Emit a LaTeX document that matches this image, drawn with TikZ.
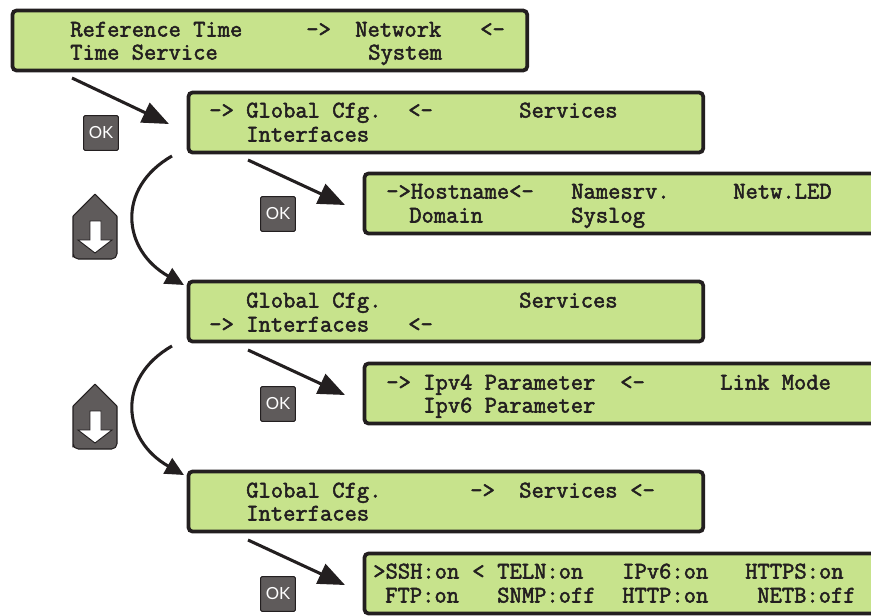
\documentclass[tikz,border=0pt]{standalone}
\usepackage{fontspec}
\newfontfamily\btnfont{Lato}
\newfontfamily\lcdfont[FakeBold=2.2]{Latin Modern Mono}
\usetikzlibrary{arrows.meta,calc}
\definecolor{lcdgreen}{HTML}{C7E38C}
\definecolor{btngray}{HTML}{5F5B5B}
\definecolor{edgeblack}{HTML}{231F20}
\tikzset{
	lcd/.style={draw=edgeblack,fill=lcdgreen,line width=2.8pt,rounded corners=3pt,anchor=north west,inner sep=0pt,outer sep=0pt,minimum height=45pt},
	lcdtxt/.style={anchor=base west,inner sep=0pt,text=edgeblack,font=\fontsize{17.9}{20}\selectfont\lcdfont},
	okbtn/.style={draw=edgeblack,fill=btngray,line width=0.8pt,rounded corners=1pt,minimum size=26pt,inner sep=0pt,text=white,font=\btnfont\fontsize{12.5}{14}\selectfont},
	menuarrow/.style={draw=edgeblack,line width=2.3pt,-{Triangle[length=20pt,width=16pt]}},
	updownarrow/.style={draw=edgeblack,line width=2.3pt,-{Triangle[length=14pt,width=13pt]}}
}
\begin{document}
\begin{tikzpicture}[x=0.75pt,y=-0.75pt]
	\useasboundingbox (0,0) rectangle (871,615);
	\clip (0,0) rectangle (871,615);
	% display panels
	\node[lcd,minimum width=386pt] (main) at (12.5,10.5) {};
	\node[lcd,minimum width=386pt] (global) at (188.5,92.5) {};
	\node[lcd,minimum width=400pt] (hostname) at (364.5,173.5) {};
	\node[lcd,minimum width=386pt] (ifaces) at (188.5,281.5) {};
	\node[lcd,minimum width=400pt] (ipv) at (364.5,363.5) {};
	\node[lcd,minimum width=386pt] (services) at (188.5,471.5) {};
	\node[lcd,minimum width=400pt] (ssh) at (364.5,553.5) {};
	% display texts
	\foreach \x/\y/\txt [count=\i] in {
		70/36/Reference Time, 306/36/->, 355/36/Network, 480/36/<-,
		70/59/Time Service, 368/59/System,
		209/117/->, 246/117/Global Cfg., 408/117/<-, 519/117/Services,
		246/141/Interfaces,
		386/198/->Hostname<-, 571/198/Namesrv., 733/198/Netw.LED,
		409/222/Domain, 571/222/Syslog,
		246/307/Global Cfg., 519/307/Services,
		209/331/->, 246/331/Interfaces, 408/331/<-,
		386/389/->, 423/389/Ipv4 Parameter, 620/389/<-, 720/389/Link Mode,
		423/412/Ipv6 Parameter,
		246/497/Global Cfg., 470/497/->, 519/497/Services, 630/497/<-,
		246/520/Interfaces,
		373/578/>SSH:on, 472/578/<, 497/578/TELN:on, 622/578/IPv6:on, 745/578/HTTPS:on,
		385/602/FTP:on, 497/602/SNMP:off, 622/602/HTTP:on, 757/602/NETB:off}{
		\node[lcdtxt] (t\i) at (\x,\y+0.5) {\txt};
	}
	% OK buttons
	\node[okbtn] (okmain) at (101,133) {OK};
	\node[okbtn] (okglobal) at (278,214) {OK};
	\node[okbtn] (okifaces) at (278,404) {OK};
	\node[okbtn] (okservices) at (278,594) {OK};
	% down keys
	\foreach \dy in {0,190}{
		\begin{scope}[yshift=-0.75pt*\dy]
			\draw[edgeblack,fill=btngray,line width=0.8pt,rounded corners=0.5pt]
				(95,194) -- (117,216) -- (117,252) [rounded corners=4pt] -- (117,259) -- (73,259) -- (73,252) [rounded corners=0.5pt] -- (73,216) -- cycle;
			\draw[edgeblack,fill=white,line width=0.7pt]
				(90,221) -- (101,221) -- (101,240) -- (112,240) -- (95,253) -- (78,240) -- (90,240) -- cycle;
		\end{scope}
	}
	% connector ends
	\coordinate (a1) at (72,78); \coordinate (b1) at (169,124);
	\coordinate (a2) at (248,160); \coordinate (b2) at (345,205);
	\coordinate (a3) at (248,350); \coordinate (b3) at (345,395);
	\coordinate (a4) at (248,540); \coordinate (b4) at (345,585);
	\coordinate (c1) at (172,156); \coordinate (d1) at (184,285);
	\coordinate (c2) at (172,346); \coordinate (d2) at (184,475);
	\draw[menuarrow] (a1) -- (b1);
	\draw[menuarrow] (a2) -- (b2);
	\draw[menuarrow] (a3) -- (b3);
	\draw[menuarrow] (a4) -- (b4);
	\draw[updownarrow] (c1) .. controls (116,188) and (122,250) .. (d1);
	\draw[updownarrow] (c2) .. controls (116,378) and (122,440) .. (d2);
\end{tikzpicture}
\end{document}
